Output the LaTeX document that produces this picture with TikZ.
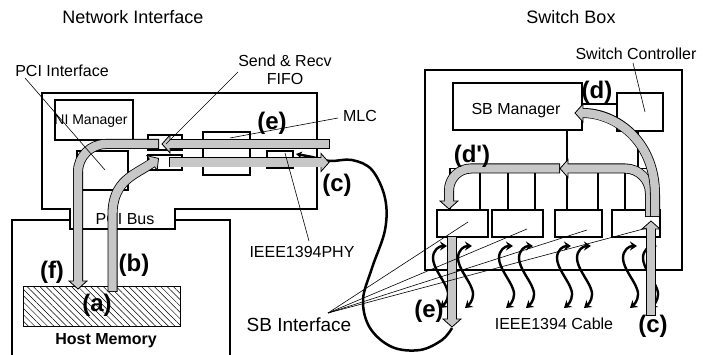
\documentclass[tikz,border=0pt]{standalone}
\usepackage{fontspec}
\setmainfont[Ligatures=TeXOff]{Liberation Sans}
\usetikzlibrary{arrows.meta,patterns.meta}
\definecolor{bandgray}{gray}{0.78}
\tikzset{
  lbl/.style={font=\fontsize{16}{19}\selectfont, inner sep=0pt, anchor=base},
  small/.style={font=\fontsize{14}{17}\selectfont, inner sep=0pt, anchor=base},
  ttl/.style={font=\fontsize{18}{21}\selectfont, inner sep=0pt, anchor=base},
  tag/.style={font=\fontsize{24}{28}\selectfont\bfseries, inner sep=0pt, anchor=base},
  frame/.style={line width=2.5pt, line join=miter},
  box/.style={line width=1.2pt},
  lead/.style={line width=0.6pt},
  headst/.style={line width=0.8pt, fill=bandgray, line join=miter},
  wire/.style={line width=2.4pt, {Stealth[length=7pt,width=9pt]}-{Stealth[length=7pt,width=9pt]}},
  cable/.style={line width=2.5pt},
}
\newcommand\fatarrow[3]{%
  \draw[line width=10pt] #1;
  \draw[headst, shift={#2}, rotate=#3] (0,-9) -- (8,0) -- (0,9) -- cycle;
  \draw[line width=8.4pt, bandgray, shorten <=0.8pt, shorten >=-1.5pt] #1;
}
\begin{document}
\begin{tikzpicture}[x=1pt,y=-1pt]
\useasboundingbox (0,0) rectangle (704,355);

% titles
\node[ttl] (tni) at (133,24) {Network Interface};
\node[ttl] (tsb) at (571,24) {Switch Box};

% host box
\draw[frame] (70,220) -- (12,220) -- (12,357);
\draw[frame] (175,220) -- (230,220) -- (230,357);
% network interface outline with PCI bus notch
\draw[frame] (42,209) -- (42,93) -- (317,93) -- (317,209) -- (175,209) -- (175,229) -- (70,229) -- (70,209) -- cycle;
\node[lbl] (pcibus) at (125,225) {PCI Bus};

% NI inner boxes
\draw[box] (55,100) rectangle (133,140);
\node[small] (nimgr) at (91,125) {NI Manager};
\draw[box] (77,151) rectangle (128,190);
\draw[box] (148,135) rectangle (182,150);
\draw[box] (148,155) rectangle (182,170);
\draw[box] (203,132) rectangle (250,175);
\draw[box] (267,151) rectangle (293,168);

% host memory
\draw[line width=1pt, pattern={Lines[angle=-45,distance=4.5pt,line width=0.5pt]}] (23,287) rectangle (180,326);

% switch box
\draw[frame] (425,70) rectangle (682,270);
\draw[box] (453,83) rectangle (582,130);
\node[lbl] (sbmgr) at (516,115) {SB Manager};
\draw[box] (617,93) rectangle (663,131);
\draw[box] (582,104) -- (617,104);
\draw[box] (567,130) -- (567,210);
\draw[box] (638,131) -- (638,168.5);
\draw[box] (450,168.5) -- (655,168.5);
\foreach \x in {450,480,508,535,598,625,655} \draw[box] (\x,168.5) -- (\x,210);
\draw[box] (437,210) rectangle (488,237);
\draw[box] (492,210) rectangle (543,237);
\draw[box] (555,210) rectangle (602,237);
\draw[box] (612,210) rectangle (660,237);

% cable wiggles
\foreach \x in {447,472,513,533,571,591,637,657}
  \draw[wire, shift={(\x,246)}] (-7,62) .. controls (-1,57) and (3,50) .. (0,43) .. controls (-3,34) and (-14,22) .. (-14,12) .. controls (-14,4) and (-8,0) .. (0,0);

% cable from NI to switch box
\draw[cable, {Stealth[length=6pt,width=7pt]}-] plot[smooth, tension=0.6] coordinates {(296,154) (312,157) (330,161) (352,160) (372,170) (385,198) (385,230) (372,268) (363,300) (370,328) (392,347) (420,350) (442,340) (452,328)};

% fat arrows, network interface
\fatarrow{(159,144) [rounded corners=28pt] -| (78,281)}{(78,281)}{-90}
\fatarrow{(330,144) -- (170,144)}{(170,144)}{180}
\fatarrow{(169,162.5) -- (321,162.5)}{(321,162.5)}{0}
\fatarrow{(112.5,292) -- (112.5,215) .. controls (112.5,180) and (135,175) .. (152,163)}{(152,163)}{35}

% fat arrows, switch box
\fatarrow{(452,236) -- (452,319)}{(452,319)}{-90}
\fatarrow{(651,316) -- (651,229)}{(651,229)}{90}
\fatarrow{(560,168.5) [rounded corners=22pt] -| (449,201)}{(449,201)}{-90}
\fatarrow{(650,217) [rounded corners=25pt] |- (568,168.5)}{(568,168.5)}{180}
\fatarrow{(655,217) -- (655,195) .. controls (655,140) and (615,113) .. (583,113)}{(583,113)}{180}

% labels with leader lines
\node[lbl] (pcilbl) at (62,77) {PCI Interface};
\draw[lead] (25,78) -- (105,170);
\node[lbl] (fifo1) at (285,67) {Send \& Recv};
\node[lbl] (fifo2) at (285,85) {FIFO};
\draw[lead] (238,72) -- (166,144);
\node[lbl] (mlc) at (360,122) {MLC};
\draw[lead] (338,118) -- (230,138);
\node[lbl] (phy) at (302,258) {IEEE1394PHY};
\draw[lead] (309,241) -- (285,153);
\node[lbl] (swc) at (636,60) {Switch Controller};
\draw[lead] (633,63) -- (645,112);
\node[font=\fontsize{19}{22}\selectfont, inner sep=0pt, anchor=base] (sbif) at (299,331) {SB Interface};
\coordinate (fan) at (328,313);
\draw[lead] (fan) -- (468,222);
\draw[lead] (fan) -- (527,229);
\draw[lead] (fan) -- (587,230);
\draw[lead] (fan) -- (647,228);
\node[lbl] (cablelbl) at (554,330) {IEEE1394 Cable};
\node[lbl, font=\fontsize{16}{19}\selectfont\bfseries] (hostmem) at (106,344) {Host Memory};

% tags
\node[tag] (te1) at (272,130) {(e)};
\node[tag] (tc1) at (337,192) {(c)};
\node[tag] (tf) at (52,279) {(f)};
\node[tag] (tb) at (134,272) {(b)};
\node[tag] (ta) at (97,312) {(a)};
\node[tag] (td) at (597,99) {(d)};
\node[tag] (tdp) at (472,163) {(d')};
\node[tag] (te2) at (429,318) {(e)};
\node[tag] (tc2) at (653,332) {(c)};
\end{tikzpicture}
\end{document}
